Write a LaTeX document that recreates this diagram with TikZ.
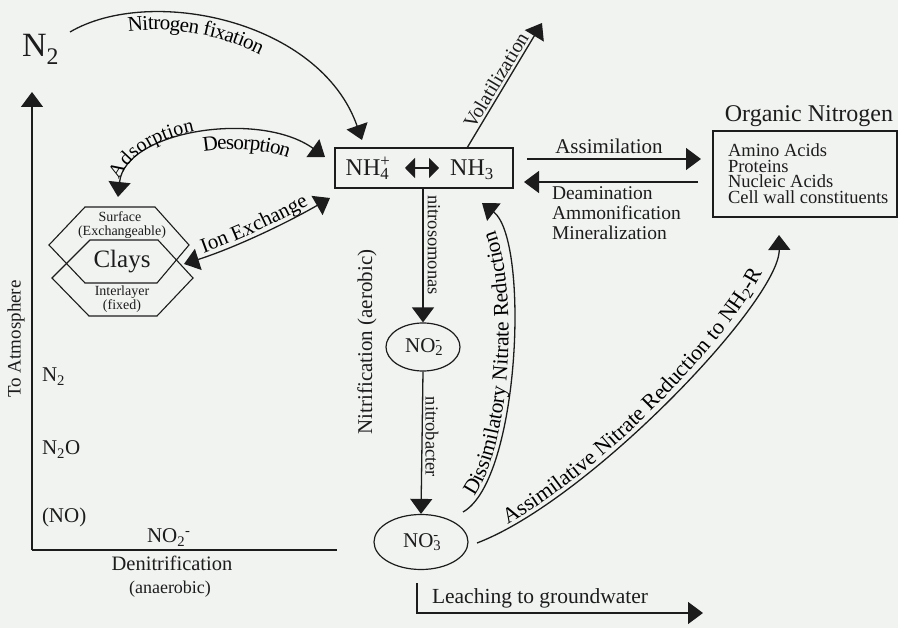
\documentclass[tikz,border=0pt]{standalone}
\usepackage{fontspec}
\setmainfont{Liberation Serif}
\usetikzlibrary{arrows.meta,decorations.text,shapes.geometric}
\definecolor{ink}{RGB}{28,28,28}
\definecolor{paper}{RGB}{241,243,241}
\newcommand{\fsz}[1]{\fontsize{#1}{#1}\selectfont}
\tikzset{
  bigtip/.tip={Triangle[length=15pt,width=22pt]},
  smalltip/.tip={Triangle[length=10pt,width=20pt]},
  arr/.style={-bigtip, line width=1.3pt, draw=ink},
  darr/.style={bigtip-bigtip, line width=1.3pt, draw=ink},
  ln/.style={line width=1.2pt, draw=ink},
  lbl/.style={text=ink, inner sep=0pt, outer sep=0pt},
  curvtext/.style={decorate, color=ink},
  hexa/.style={line width=1.1pt, draw=ink},
}
\begin{document}
\begin{tikzpicture}[x=1pt,y=-1pt]
\fill[paper] (0,0) rectangle (898,628);
\useasboundingbox (0,0) rectangle (898,628);

% ---------- N2 and nitrogen fixation
\node[lbl, anchor=base west] (n2big) at (22,57) {\fsz{34}N\textsubscript{2}};
\coordinate (nfs) at (70,32);
\coordinate (nfe) at (362,140);
\draw[arr] (nfs) .. controls (150,-15) and (320,20) .. (nfe);
\path[curvtext, decoration={text along path, text={|\fsz{21}|Nitrogen fixation}, text align={left indent=60pt}, raise=-18pt}]
  (nfs) .. controls (150,-15) and (320,20) .. (nfe);

% ---------- NH4+ <-> NH3 box
\node[draw=ink, line width=1.2pt, minimum width=178pt, minimum height=40pt, inner sep=0pt] (box) at (424,168) {};
\node[lbl, anchor=base] (nh4) at (368,176) {\fsz{24}NH\rlap{\textsubscript{4}}\textsuperscript{+}};
\node[lbl, anchor=base] (nh3) at (472,176) {\fsz{24}NH\textsubscript{3}};
\coordinate (dbl1) at (405,168);
\coordinate (dbl2) at (439,168);
\draw[smalltip-smalltip, line width=1.2pt, draw=ink] (dbl1) -- (dbl2);

% ---------- Volatilization
\coordinate (vs) at (467,148);
\coordinate (ve) at (542,23);
\draw[arr] (vs) -- (ve) node[lbl, midway, sloped, above=3pt] (volat) {\fsz{20}Volatilization};

% ---------- Organic nitrogen
\node[lbl, anchor=base] (orgtitle) at (809,122) {\fsz{24}Organic Nitrogen};
\node[draw=ink, line width=1.2pt, minimum width=184pt, minimum height=86pt, inner sep=0pt] (org) at (805,174) {};
\node[lbl, anchor=base west] (org1) at (728,157) {\fsz{18.5}Amino Acids};
\node[lbl, anchor=base west] (org2) at (728,172.5) {\fsz{18.5}Proteins};
\node[lbl, anchor=base west] (org3) at (728,188) {\fsz{18.5}Nucleic Acids};
\node[lbl, anchor=base west] (org4) at (728,204) {\fsz{18.5}Cell wall constituents};

% ---------- Assimilation / Deamination
\coordinate (as1) at (527,159);
\coordinate (as2) at (701,159);
\draw[arr] (as1) -- (as2);
\node[lbl, anchor=base] (assim) at (609,154) {\fsz{21}Assimilation};
\coordinate (de1) at (698,182);
\coordinate (de2) at (524,182);
\draw[arr] (de1) -- (de2);
\node[lbl, anchor=base west] (deam) at (552,200) {\fsz{19.5}Deamination};
\node[lbl, anchor=base west] (ammon) at (552,220) {\fsz{19.5}Ammonification};
\node[lbl, anchor=base west] (miner) at (552,240) {\fsz{19.5}Mineralization};

% ---------- Clays
\draw[hexa] (49,245) -- (85,207) -- (155,207) -- (189,245) -- (157,283) -- (85,283) -- cycle;
\draw[hexa] (52,278) -- (90,240) -- (158,240) -- (193,278) -- (157,316) -- (89,316) -- cycle;
\node[lbl, anchor=base] (surf) at (120,222) {\fsz{14}Surface};
\node[lbl, anchor=base] (exch) at (122,236) {\fsz{14}(Exchangeable)};
\node[lbl, anchor=base] (clays) at (122,268) {\fsz{25}Clays};
\node[lbl, anchor=base] (inter) at (122,296) {\fsz{14}Interlayer};
\node[lbl, anchor=base] (fixed) at (122,310) {\fsz{14}(fixed)};

% ---------- Adsorption / Desorption
\coordinate (ads1) at (118,197);
\coordinate (ads2) at (325,157);
\draw[darr] (ads1) .. controls (125,130) and (260,110) .. (ads2);
\path[curvtext, decoration={text along path, text={|\fsz{20}|Adsorption}, text align={left indent=16pt}, raise=4pt}]
  (ads1) .. controls (125,130) and (260,110) .. (ads2);
\path[curvtext, decoration={text along path, text={|\fsz{21}|Desorption}, text align={left indent=112pt}, raise=-18pt}]
  (ads1) .. controls (125,130) and (260,110) .. (ads2);

% ---------- Ion exchange
\coordinate (ie1) at (184,264);
\coordinate (ie2) at (330,198);
\draw[darr] (ie1) .. controls (234,248) and (285,224) .. (ie2);
\path[curvtext, decoration={text along path, text={|\fsz{21}|Ion Exchange}, text align={center}, raise=4pt}]
  (ie1) .. controls (234,248) and (285,224) .. (ie2);

% ---------- Nitrification
\node[draw=ink, ellipse, line width=1.2pt, minimum width=74pt, minimum height=48pt, inner sep=0pt, text=ink] (no2) at (423,347) {\fsz{21}NO\rlap{\textsubscript{2}}\textsuperscript{-}};
\node[draw=ink, ellipse, line width=1.2pt, minimum width=94pt, minimum height=55pt, inner sep=0pt, text=ink] (no3) at (421,542) {\fsz{21}NO\rlap{\textsubscript{3}}\textsuperscript{-}};
\draw[arr] (box.south -| no2.north) -- (no2.north);
\draw[arr] (no2.south) -- (no3.north);
\node[lbl, rotate=-90] (nsomo) at (434,245) {\fsz{18.5}nitrosomonas};
\node[lbl, rotate=-90] (nbact) at (432,437) {\fsz{18.5}nitrobacter};
\node[lbl, rotate=90] (nitrif) at (367,342) {\fsz{21}Nitrification (aerobic)};

% ---------- Dissimilatory nitrate reduction
\coordinate (dis1) at (463,512);
\coordinate (dis2) at (482,203);
\draw[arr] (dis1) .. controls (520,480) and (530,240) .. (dis2);
\path[curvtext, decoration={text along path, text={|\fsz{21.5}|Dissimilatory Nitrate Reduction}, text align={left indent=20pt}, raise=4pt}]
  (dis1) .. controls (520,480) and (530,240) .. (dis2);

% ---------- Assimilative nitrate reduction
\coordinate (asn1) at (477,543);
\coordinate (asn2) at (779,235);
\draw[arr] (asn1) .. controls (590,500) and (780,300) .. (asn2);
\path[curvtext, decoration={text along path, text={|\fsz{22}|Assimilative Nitrate Reduction to NH{\textsubscript{2}}-R}, text align={left indent=36pt}, raise=4pt}]
  (asn1) .. controls (590,500) and (780,300) .. (asn2);

% ---------- Leaching
\coordinate (le1) at (417,583);
\coordinate (le2) at (703,613);
\draw[arr] (le1) |- (le2);
\node[lbl, anchor=base west] (leach) at (432,603) {\fsz{21.5}Leaching to groundwater};

% ---------- Denitrification axis
\coordinate (ax0) at (32,550);
\coordinate (axtop) at (32,92);
\coordinate (axr) at (337,550);
\draw[arr] (ax0) -- (axtop);
\draw[ln] (ax0) -- (axr);
\node[lbl, rotate=90] (toatm) at (16,339) {\fsz{19}To Atmosphere};
\node[lbl, anchor=base west] (n2s) at (42,382) {\fsz{21}N\textsubscript{2}};
\node[lbl, anchor=base west] (n2o) at (42,455) {\fsz{21}N\textsubscript{2}O};
\node[lbl, anchor=base west] (no) at (42,522) {\fsz{21}(NO)};
\node[lbl, anchor=base west] (no2d) at (147,543) {\fsz{21}NO\textsubscript{2}\textsuperscript{-}};
\node[lbl, anchor=base] (denit) at (172,570) {\fsz{20.5}Denitrification};
\node[lbl, anchor=base] (anaer) at (170,593) {\fsz{18}(anaerobic)};
\end{tikzpicture}
\end{document}
